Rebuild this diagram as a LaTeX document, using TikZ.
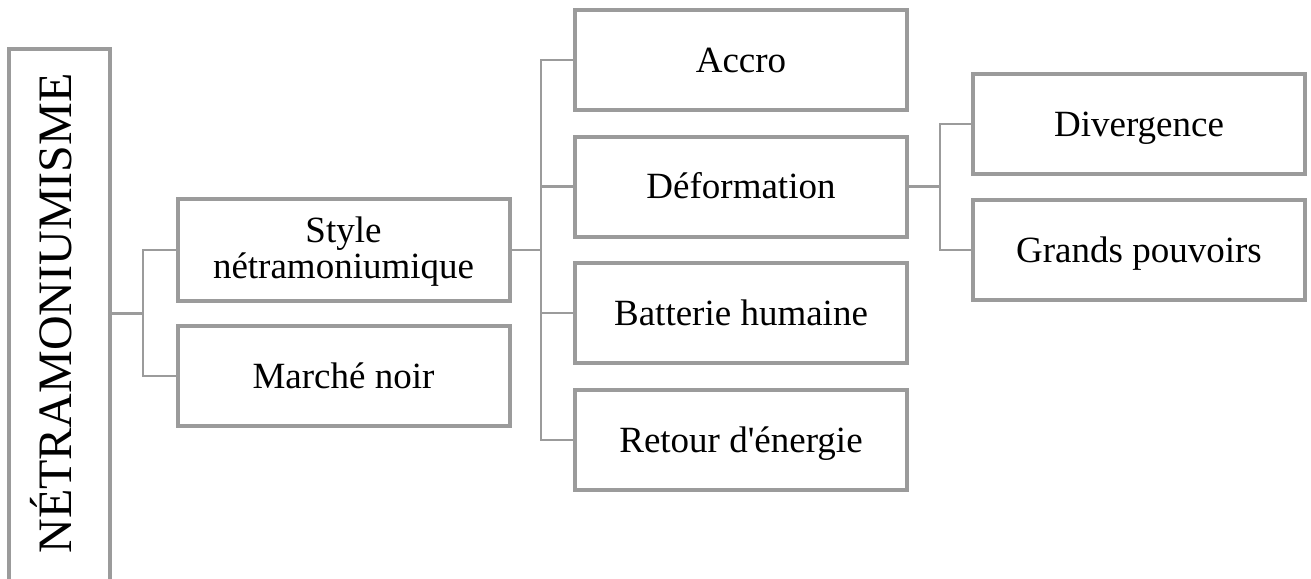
\documentclass[tikz,border=0pt]{standalone}
\usepackage{fontspec}
\setmainfont{Liberation Serif}[Ligatures=TeXOff]
\begin{document}
\begin{tikzpicture}[x=1pt,y=-1pt,
  boxline/.style={draw=frame, line width=4pt},
  item/.style={boxline, inner sep=0pt, minimum width=332pt, minimum height=100pt,
    text height=24.5pt, text depth=0pt,
    align=center, font=\fontsize{37}{36}\selectfont},
  link/.style={draw=frame, line width=2.6pt}]
\definecolor{frame}{RGB}{155,155,155}
\useasboundingbox (0,0) rectangle (1311,578);

% root column (open at the bottom edge of the page)
\node[boxline, inner sep=0pt, minimum width=101pt, minimum height=580pt, anchor=north] (root) at (59.5,47) {};
\node[rotate=90, anchor=base, font=\fontsize{48}{54}\selectfont] (roottitle) at (71.5,313.5) {NÉTRAMONIUMISME};

% first level (two-line label: height measured to the last baseline)
\node[item, minimum height=102pt, text height=57pt, text depth=0pt] (style) at (343.5,250) {Style\\nétramoniumique};
\node[item] (marche) at (343.5,376) {Marché noir};

% second level
\node[item] (accro) at (741,60) {Accro};
\node[item] (deform) at (741,186.5) {Déformation};
\node[item] (batterie) at (741,313) {Batterie humaine};
\node[item] (retour) at (741,440) {Retour d'énergie};

% third level
\node[item] (diverg) at (1139,124) {Divergence};
\node[item] (grands) at (1139,250) {Grands pouvoirs};

% junctions
\coordinate (j1) at (143,313.5);
\coordinate (j2) at (541,250);
\coordinate (j3) at (940,186.5);

\draw[link] (root.east |- j1) -- (j1);
\draw[link] (style.west) -| (j1) |- (marche.west);

\draw[link] (style.east) -- (j2);
\draw[link] (accro.west) -| (j2) |- (retour.west);
\draw[link] (deform.west) -- (deform.west -| j2);
\draw[link] (batterie.west) -- (batterie.west -| j2);

\draw[link] (deform.east) -- (j3);
\draw[link] (diverg.west) -| (j3) |- (grands.west);
\end{tikzpicture}
\end{document}
